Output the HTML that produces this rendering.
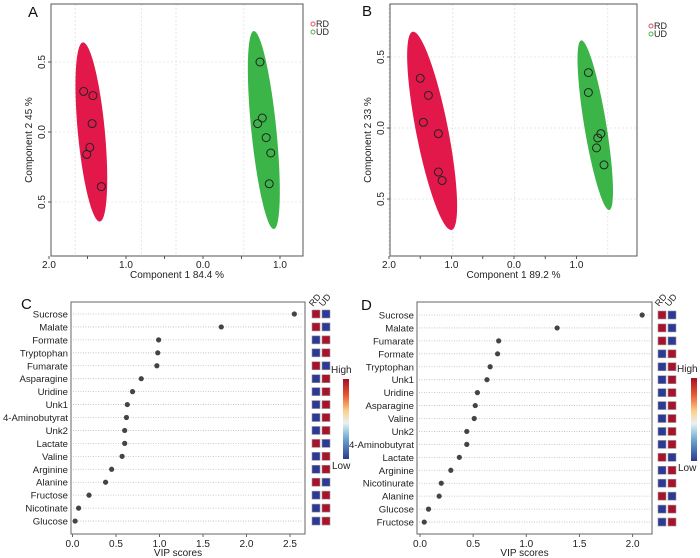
<!DOCTYPE html>
<html><head><meta charset="utf-8"><style>
html,body{margin:0;padding:0;background:#fff;}
svg{display:block;font-family:"Liberation Sans",sans-serif;}
</style></head><body>
<svg id="fig" width="700" height="558" viewBox="0 0 700 558">
<defs>
<linearGradient id="cbar" x1="0" y1="1" x2="0" y2="0">
<stop offset="0" stop-color="#2a3b92"/><stop offset="0.25" stop-color="#6aa6cf"/><stop offset="0.45" stop-color="#e6f2f5"/><stop offset="0.6" stop-color="#fbd18a"/><stop offset="0.8" stop-color="#e9572f"/><stop offset="1" stop-color="#a40f28"/>
</linearGradient>
</defs>
</svg>
<script>
// ---------- PLS-DA data ----------
const aRDx=[-1.55,-1.43,-1.44,-1.47,-1.51,-1.32];
const aRDy=[0.29,0.26,0.06,-0.11,-0.16,-0.39];
const aUDx=[0.74,0.77,0.71,0.82,0.88,0.86];
const aUDy=[0.50,0.10,0.06,-0.04,-0.15,-0.37];
const bRDx=[-1.50,-1.37,-1.45,-1.21,-1.21,-1.15];
const bRDy=[0.35,0.23,0.04,-0.04,-0.31,-0.37];
const bUDx=[1.19,1.19,1.39,1.34,1.32,1.44];
const bUDy=[0.39,0.25,-0.04,-0.07,-0.14,-0.26];
const xTickVals=[-2,-1,0,1];
const xTickLabels=["2.0","1.0","0.0","1.0"];
const yTickVals=[0.5,0,-0.5];
const yTickLabels=["0.5","0.0","0.5"];
// ---------- VIP data ----------
const cNames=["Sucrose","Malate","Formate","Tryptophan","Fumarate","Asparagine","Uridine","Unk1","4-Aminobutyrat","Unk2","Lactate","Valine","Arginine","Alanine","Fructose","Nicotinate","Glucose"];
const cVIP=[2.55,1.71,0.99,0.98,0.97,0.79,0.69,0.63,0.62,0.60,0.60,0.57,0.45,0.38,0.19,0.07,0.03];
const cRDHigh=[1,1,0,0,1,0,0,0,0,0,1,0,0,1,0,0,0];
const cTicks=[0,0.5,1,1.5,2,2.5];
const dNames=["Sucrose","Malate","Fumarate","Formate","Tryptophan","Unk1","Uridine","Asparagine","Valine","Unk2","4-Aminobutyrat","Lactate","Arginine","Nicotinurate","Alanine","Glucose","Fructose"];
const dVIP=[2.09,1.29,0.74,0.73,0.66,0.63,0.54,0.52,0.51,0.44,0.44,0.37,0.29,0.20,0.18,0.08,0.04];
const dRDHigh=[1,1,1,0,0,0,0,0,0,0,0,1,0,0,1,0,0];
const dTicks=[0,0.5,1,1.5,2];

const NS="http://www.w3.org/2000/svg";
const svg=document.getElementById('fig');
function el(tag,attrs,parent,text){const e=document.createElementNS(NS,tag);for(const k in attrs)e.setAttribute(k,attrs[k]);if(text!==undefined)e.textContent=text;(parent||svg).appendChild(e);return e;}
const RED="#a8132b", BLUE="#2c3a95";

function scatterPanel(o){
  const g=el('g',{});
  
  
  const sx=v=>o.x0+(v*o.xu), sy=v=>o.y0-(v*o.yu);
  // grid
  const gx=[-1.5,-0.5,-0.05,0.5];
  for(const v of o.gridX){const l=el('line',{x1:sx(v),x2:sx(v),y1:o.top,y2:o.bot,stroke:'#e2e2e2','stroke-dasharray':'2,2','stroke-width':0.8},g);}
  for(const v of yTickVals){const l=el('line',{x1:o.left,x2:o.right,y1:sy(v),y2:sy(v),stroke:'#e2e2e2','stroke-dasharray':'2,2','stroke-width':0.8},g);}
  // ellipses
  for(const e of o.ells){
    const cx=sx(e.cx),cy=sy(e.cy);
    const p=el('ellipse',{cx:cx,cy:cy,rx:e.rx,ry:e.ry,fill:e.fill,transform:`rotate(${e.rot} ${cx} ${cy})`},g);
    
    
  }
  // points
  for(const s of o.series){
    for(let i=0;i<s.x.length;i++){
      const c=el('circle',{cx:sx(s.x[i]),cy:sy(s.y[i]),r:4,fill:'none',stroke:'#222','stroke-width':1},g);
      
      
    }
  }
  const fr=el('rect',{x:o.left,y:o.top,width:o.right-o.left,height:o.bot-o.top,fill:'none',stroke:'#555','stroke-width':1},g);
  
  
  // x ticks
  for(let i=0;i<xTickVals.length;i++){
    const x=sx(xTickVals[i]);
    el('line',{x1:x,x2:x,y1:o.bot,y2:o.bot+3,stroke:'#555'},g);
    const t=el('text',{x:x,y:o.bot+12,'font-size':10,'text-anchor':'middle',fill:'#222'},g,xTickLabels[i]);
    
    
  }
  for(const v of [-1.5,-0.5,0.5]){const x=sx(v);el('line',{x1:x,x2:x,y1:o.bot,y2:o.bot+3,stroke:'#555'},g);}
  for(let i=0;i<yTickVals.length;i++){
    const y=sy(yTickVals[i]);
    el('line',{x1:o.left-3,x2:o.left,y1:y,y2:y,stroke:'#555'},g);
    const t=el('text',{x:o.left-6,y:y,'font-size':10,'text-anchor':'middle',fill:'#222',transform:`rotate(-90 ${o.left-6} ${y})`},g,yTickLabels[i]);
    
    
  }
  const xt=el('text',{x:(o.left+o.right)/2,y:o.bot+22,'font-size':10,'text-anchor':'middle',fill:'#222'},g,o.xTitle);
  
  
  const yx=o.left-19, yy=(o.top+o.bot)/2+10;
  const yt=el('text',{x:yx,y:yy,'font-size':10,'text-anchor':'middle',fill:'#222',transform:`rotate(-90 ${yx} ${yy})`},g,o.yTitle);
  
  
  const lb=el('text',{x:o.labX,y:o.labY,'font-size':15,fill:'#111'},g,o.label);
  
  
  // legend
  const lg=[["RD","#e0506a"],["UD","#4db84d"]];
  for(let i=0;i<2;i++){
    const c=el('circle',{cx:o.legX,cy:o.legY+i*8-3,r:2,fill:'none',stroke:lg[i][1],'stroke-width':1},g);
    
    
    const t=el('text',{x:o.legX+3,y:o.legY+i*8,'font-size':9,fill:'#222'},g,lg[i][0]);
    
    
  }
}

scatterPanel({name:'pls-da-plot-a',left:51,right:303,top:4,bot:256,x0:203,xu:77,y0:132,yu:140,gridX:[-1.66,-0.8,-0.35,0.53],
  ells:[{name:'rd-ellipse',cx:-1.45,cy:0,rx:13.5,ry:90,rot:-5.4,fill:'#e2184a'},{name:'ud-ellipse',cx:0.79,cy:0.014,rx:12.5,ry:99.5,rot:-5.8,fill:'#3bb548'}],
  series:[{name:'rd',x:aRDx,y:aRDy},{name:'ud',x:aUDx,y:aUDy}],
  xTitle:'Component 1 84.4 %',yTitle:'Component 2 45 %',label:'A',labX:28,labY:17,legX:313,legY:27});
scatterPanel({name:'pls-da-plot-b',left:390,right:637,top:4,bot:256,x0:514,xu:62.5,y0:128,yu:142,gridX:[-2,-0.98,0.01,1.5],
  ells:[{name:'rd-ellipse',cx:-1.31,cy:-0.02,rx:16,ry:101,rot:-11.1,fill:'#e2184a'},{name:'ud-ellipse',cx:1.30,cy:0.02,rx:11,ry:86,rot:-9.4,fill:'#3bb548'}],
  series:[{name:'rd',x:bRDx,y:bRDy},{name:'ud',x:bUDx,y:bUDy}],
  xTitle:'Component 1 89.2 %',yTitle:'Component 2 33 %',label:'B',labX:362,labY:16,legX:651,legY:29});

function vipPanel(o){
  const g=el('g',{});
  
  
  const sx=v=>o.x0+v*o.xu;
  const sy=i=>o.r0+i*o.rs;
  for(let i=0;i<o.names.length;i++){
    const y=sy(i);
    const gl=el('line',{x1:o.left+2,x2:o.right-2,y1:y,y2:y,stroke:'#bdbdbd','stroke-dasharray':'1,1.5','stroke-width':0.8},g);
    
    
    const t=el('text',{x:o.left-3,y:y+3.5,'font-size':9.6,'text-anchor':'end',fill:'#222'},g,o.names[i]);
    
    
    const c=el('circle',{cx:sx(o.vals[i]),cy:y,r:2.6,fill:'#444'},g);
    
    
    const hi=o.rd[i];
    const r1=el('rect',{x:o.hx,y:y-4,width:8,height:8,fill:hi?RED:BLUE,stroke:'#999','stroke-width':0.6},g);
    
    
    const r2=el('rect',{x:o.hx+10,y:y-4,width:8,height:8,fill:hi?BLUE:RED,stroke:'#999','stroke-width':0.6},g);
    
    
  }
  const fr=el('rect',{x:o.left,y:o.top,width:o.right-o.left,height:o.bot-o.top,fill:'none',stroke:'#666','stroke-width':1},g);
  
  
  for(const v of o.ticks){
    const x=sx(v);
    el('line',{x1:x,x2:x,y1:o.bot,y2:o.bot+3,stroke:'#666'},g);
    const t=el('text',{x:x,y:o.bot+13,'font-size':10,'text-anchor':'middle',fill:'#222'},g,v.toFixed(1));
    
    
  }
  const xt=el('text',{x:(o.left+o.right)/2-10,y:o.bot+22,'font-size':10,'text-anchor':'middle',fill:'#222'},g,'VIP scores');
  
  
  const lb=el('text',{x:o.labX,y:o.labY,'font-size':15,fill:'#111'},g,o.label);
  
  
  const h1=el('text',{x:o.hx+1,y:o.top+5,'font-size':9,fill:'#222',transform:`rotate(-50 ${o.hx+1} ${o.top+5})`},g,'RD');
  
  
  const h2=el('text',{x:o.hx+11,y:o.top+5,'font-size':9,fill:'#222',transform:`rotate(-50 ${o.hx+11} ${o.top+5})`},g,'UD');
  
  
  const cb=el('rect',{x:o.cbx,y:o.cby,width:6,height:o.cbh,fill:'url(#cbar)'},g);
  
  
  const hi=el('text',{x:o.hiX,y:o.cby-6,'font-size':10,fill:'#222'},g,'High');
  
  
  const lo=el('text',{x:o.hiX+1,y:o.cby+o.cbh+10,'font-size':10,fill:'#222'},g,'Low');
  
  
}
vipPanel({name:'vip-plot-c',left:71,right:305,top:302,bot:534,x0:72.5,xu:87,r0:314,rs:12.94,names:cNames,vals:cVIP,rd:cRDHigh,ticks:cTicks,hx:312,cbx:343,cby:379,cbh:80,hiX:331,label:'C',labX:21,labY:309});
vipPanel({name:'vip-plot-d',left:417,right:652,top:302,bot:534,x0:420,xu:106.3,r0:315,rs:12.94,names:dNames,vals:dVIP,rd:dRDHigh,ticks:dTicks,hx:658,cbx:691,cby:378,cbh:83,hiX:677,label:'D',labX:361,labY:310});
</script>
</body></html>
